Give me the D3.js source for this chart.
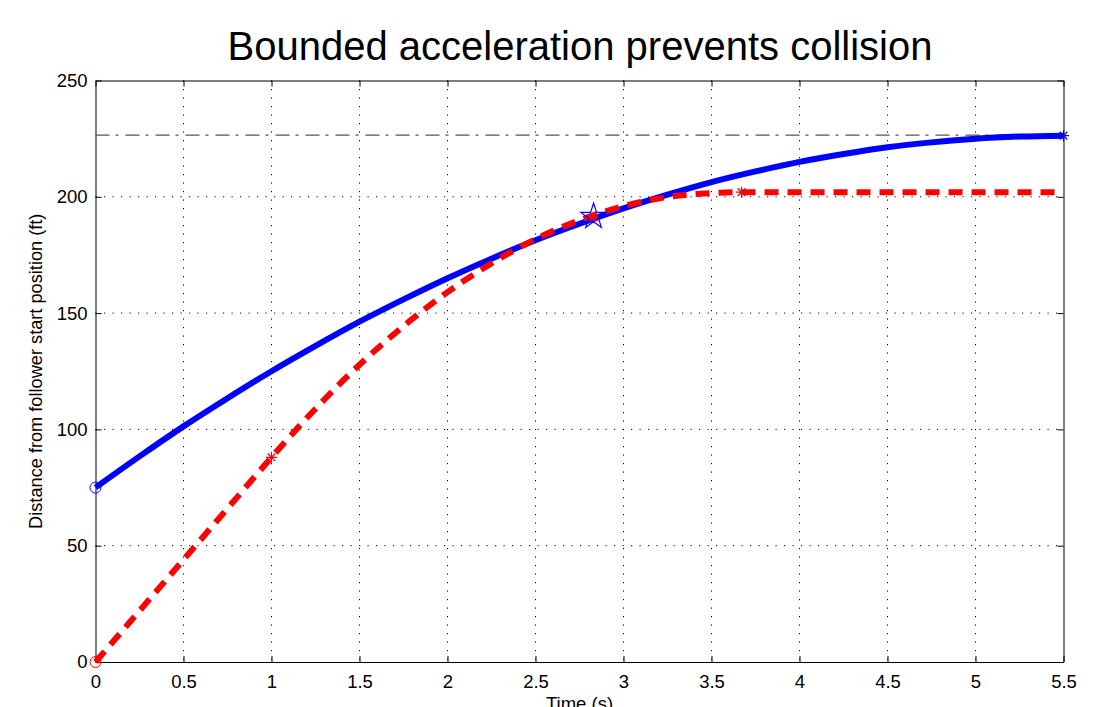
<!DOCTYPE html>
<html>
<head>
<meta charset="utf-8">
<script src="https://cdn.jsdelivr.net/npm/d3@7"></script>
<style>
  body { margin: 0; background: #fff; }
  svg { display: block; font-family: "Liberation Sans", Arial, sans-serif; }
</style>
</head>
<body>
<svg id="chart"></svg>
<script>
const width = 1119;
const height = 707;

// ===== DATOS =====
const leaderTime = [0, 0.25, 0.5, 0.75, 1, 1.25, 1.5, 1.75, 2, 2.25, 2.5, 2.75, 3,
  3.25, 3.5, 3.75, 4, 4.25, 4.5, 4.75, 5, 5.25, 5.5];
const leaderPos = [75, 88.4, 101.3, 113.4, 125, 135.9, 146.3, 155.9, 165, 173.4, 181.3,
  188.4, 195, 200.9, 206.3, 210.9, 215, 218.4, 221.3, 223.4, 225, 225.9, 226.3];

const followerTime = [0, 0.25, 0.5, 0.75, 1, 1.25, 1.5, 1.75, 2, 2.25, 2.5, 2.75, 3,
  3.25, 3.5, 3.67, 4, 4.5, 5, 5.5];
const followerPos = [0, 22, 44, 66, 88, 108.9, 127.8, 144.4, 159, 171.4, 181.8, 189.9, 196,
  199.9, 201.6, 202, 202, 202, 202, 202];

// marcadores
const leaderStart = [0, 75];
const leaderStop = [5.5, 226.3];
const meetPoint = [2.83, 191.5];
const followerStart = [0, 0];
const followerMarks = [[1, 88], [2.83, 191], [3.67, 202]];
const leaderMax = 226.5;

const xTicks = [0, 0.5, 1, 1.5, 2, 2.5, 3, 3.5, 4, 4.5, 5, 5.5];
const yTicks = [0, 50, 100, 150, 200, 250];

// ===== ESCALAS =====
const margin = { left: 95.5, right: 1063.5, top: 80.5, bottom: 662 };

const x = d3.scaleLinear().domain([0, 5.5]).range([margin.left, margin.right]);
const y = d3.scaleLinear().domain([0, 250]).range([margin.bottom, margin.top]);

const svg = d3.select("#chart").attr("width", width).attr("height", height);

// Rejilla punteada
const grid = svg.append("g");
grid.selectAll(".gx").data(xTicks.slice(1, -1)).join("line")
  .attr("x1", d => x(d)).attr("x2", d => x(d))
  .attr("y1", margin.top).attr("y2", margin.bottom)
  .attr("stroke", "#000").attr("stroke-width", 1).attr("stroke-dasharray", "1.2,7.3");
grid.selectAll(".gy").data(yTicks.slice(1, -1)).join("line")
  .attr("x1", margin.left).attr("x2", margin.right)
  .attr("y1", d => y(d)).attr("y2", d => y(d))
  .attr("stroke", "#000").attr("stroke-width", 1).attr("stroke-dasharray", "1.2,7.3");

// Ejes (ticks hacia dentro, estilo caja)
const tickLen = 6;
svg.append("g").attr("transform", `translate(0,${margin.bottom})`)
  .call(d3.axisBottom(x).tickValues(xTicks).tickSizeInner(-tickLen).tickSizeOuter(0).tickPadding(13)
    .tickFormat(d => d3.format("")(d)));
svg.append("g").attr("transform", `translate(${margin.left},0)`)
  .call(d3.axisLeft(y).tickValues(yTicks).tickSizeInner(-tickLen).tickSizeOuter(0).tickPadding(8));
svg.append("g").attr("transform", `translate(0,${margin.top})`)
  .call(d3.axisTop(x).tickValues(xTicks).tickSizeInner(-tickLen).tickSizeOuter(0).tickFormat(""));
svg.append("g").attr("transform", `translate(${margin.right},0)`)
  .call(d3.axisRight(y).tickValues(yTicks).tickSizeInner(-tickLen).tickSizeOuter(0).tickFormat(""));

svg.selectAll(".tick text").attr("font-size", 18.5).attr("fill", "#000")
  .attr("font-family", "'Liberation Sans', Arial, sans-serif");
svg.selectAll(".domain").attr("stroke", "#000");
svg.selectAll(".tick line").attr("stroke", "#000");

// Línea horizontal punto-raya (máximo del líder)
svg.append("line")
  .attr("x1", x(0)).attr("x2", x(5.5))
  .attr("y1", y(leaderMax)).attr("y2", y(leaderMax))
  .attr("stroke", "#555").attr("stroke-width", 1.2)
  .attr("stroke-dasharray", "14,6,3,7");

// Curvas
const line = d3.line().x(d => x(d[0])).y(d => y(d[1])).curve(d3.curveMonotoneX);

svg.append("path")
  .datum(d3.zip(leaderTime, leaderPos))
  .attr("d", line)
  .attr("fill", "none").attr("stroke", "#0000ff").attr("stroke-width", 6);

svg.append("path")
  .datum(d3.zip(followerTime, followerPos))
  .attr("d", line)
  .attr("fill", "none").attr("stroke", "#ff0000").attr("stroke-width", 6)
  .attr("stroke-dasharray", "14,9");

// Marcadores
function asterisk(cx, cy, r) {
  const p = d3.path();
  p.moveTo(cx - r, cy); p.lineTo(cx + r, cy);
  p.moveTo(cx, cy - r); p.lineTo(cx, cy + r);
  const k = r * 0.7;
  p.moveTo(cx - k, cy - k); p.lineTo(cx + k, cy + k);
  p.moveTo(cx - k, cy + k); p.lineTo(cx + k, cy - k);
  return p.toString();
}

svg.append("circle").attr("cx", x(leaderStart[0])).attr("cy", y(leaderStart[1])).attr("r", 5.5)
  .attr("fill", "none").attr("stroke", "#0000ff").attr("stroke-width", 1);
svg.append("circle").attr("cx", x(followerStart[0])).attr("cy", y(followerStart[1])).attr("r", 5.5)
  .attr("fill", "none").attr("stroke", "#ff0000").attr("stroke-width", 1);

svg.selectAll(".fmark").data(followerMarks).join("path")
  .attr("d", d => asterisk(x(d[0]), y(d[1]), 5.5))
  .attr("stroke", "#ff0000").attr("stroke-width", 1.2).attr("fill", "none");

svg.append("path")
  .attr("d", asterisk(x(leaderStop[0]), y(leaderStop[1]), 5.5))
  .attr("stroke", "#0000ff").attr("stroke-width", 1.2).attr("fill", "none");

svg.append("path")
  .attr("d", d3.symbol(d3.symbolStar, 200)())
  .attr("transform", `translate(${x(meetPoint[0])},${y(meetPoint[1])})`)
  .attr("fill", "none").attr("stroke", "#0000ff").attr("stroke-width", 1.2);

// Títulos
svg.append("text")
  .attr("x", 580).attr("y", 60)
  .attr("text-anchor", "middle")
  .attr("font-size", 40)
  .text("Bounded acceleration prevents collision");

svg.append("text")
  .attr("transform", `translate(42,${(margin.top + margin.bottom) / 2}) rotate(-90)`)
  .attr("text-anchor", "middle")
  .attr("font-size", 18.2)
  .text("Distance from follower start position (ft)");

svg.append("text")
  .attr("x", (margin.left + margin.right) / 2).attr("y", 710)
  .attr("text-anchor", "middle")
  .attr("font-size", 18.5)
  .text("Time (s)");
</script>
</body>
</html>
